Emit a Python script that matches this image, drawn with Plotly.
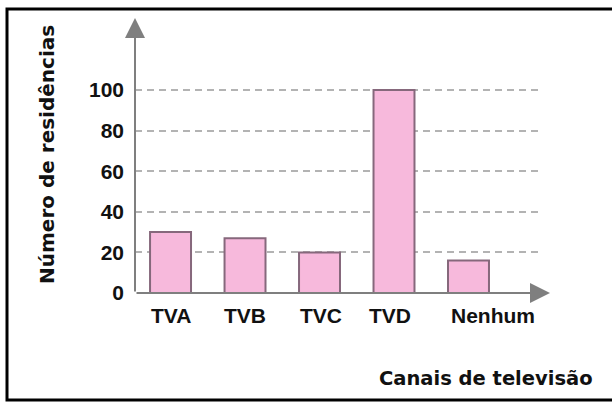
import plotly.graph_objects as go

categories = ["TVA", "TVB", "TVC", "TVD", "Nenhum"]
values = [30, 27, 20, 100, 16]
y_ticks = [0, 20, 40, 60, 80, 100]
x_title = "Canais de televisão"
y_title = "Número de residências"

# style only: horizontal nudge of each category label (px)
label_shift = [0, 0, 1, -4, 24]

TICKF = "Liberation Sans, Arial, sans-serif"
WIDE = "DejaVu Sans, Verdana, sans-serif"
W, H = 612, 402
L, R, T, B = 135, W - 538, 18, H - 293
pw, ph = W - L - R, H - T - B


def px_x(p):
    return (p - L) / pw


def px_y(p):
    return (H - B - p) / ph


fig = go.Figure()
fig.add_trace(go.Bar(
    x=categories, y=values, width=0.55,
    marker=dict(color="#f7b9dc", line=dict(color="#86687c", width=2)),
    hoverinfo="x+y",
))

ann = []
for c, s in zip(categories, label_shift):
    ann.append(dict(x=c, xref="x", y=px_y(315), yref="paper", text=c,
                    showarrow=False, xshift=s, xanchor="center", yanchor="middle",
                    font=dict(family=TICKF, size=21, color="#111", weight="bold")))
ann.append(dict(x=px_x(486), y=px_y(378), xref="paper", yref="paper",
                text=x_title, showarrow=False, xanchor="center", yanchor="middle",
                font=dict(family=WIDE, size=19.5, color="#111", weight="bold")))
ann.append(dict(x=px_x(47), y=px_y(155), xref="paper", yref="paper",
                text=y_title, showarrow=False, textangle=-90,
                xanchor="center", yanchor="middle",
                font=dict(family=WIDE, size=20, color="#111", weight="bold")))
# axis arrows
ann.append(dict(x=px_x(550), y=0, xref="paper", yref="y", text="",
                showarrow=True, ax=-(550 - L), ay=0, arrowhead=2,
                arrowsize=2, arrowwidth=2, arrowcolor="#7f7f7f"))
ann.append(dict(x=0, y=1, xref="paper", yref="paper", text="",
                showarrow=True, ax=0, ay=ph, arrowhead=2,
                arrowsize=2, arrowwidth=2, arrowcolor="#7f7f7f"))

fig.update_layout(
    width=W, height=H,
    margin=dict(l=L, r=R, t=T, b=B, pad=0),
    paper_bgcolor="white", plot_bgcolor="white",
    showlegend=False,
    annotations=ann,
    shapes=[dict(type="rect", xref="paper", yref="paper",
                 x0=px_x(7), x1=px_x(620), y0=px_y(400), y1=px_y(9),
                 line=dict(color="black", width=3), fillcolor="rgba(0,0,0,0)",
                 layer="above")],
    xaxis=dict(type="category", range=[-0.477, 4.933], showgrid=False,
               showline=False, zeroline=False, showticklabels=False,
               ticks="", fixedrange=True),
    yaxis=dict(range=[0, ph / 2.03], tickvals=y_ticks,
               ticktext=[str(v) for v in y_ticks],
               showgrid=True, gridcolor="#b3b3b3", gridwidth=2,
               griddash="7px,5px", zeroline=False, showline=False,
               ticks="", ticklabelstandoff=10,
               tickfont=dict(family=TICKF, size=21, color="#111", weight="bold"),
               fixedrange=True),
)

fig.write_html("out.html", config={"displayModeBar": False},
               post_script="document.body.style.margin='0';document.body.style.overflow='hidden';")
